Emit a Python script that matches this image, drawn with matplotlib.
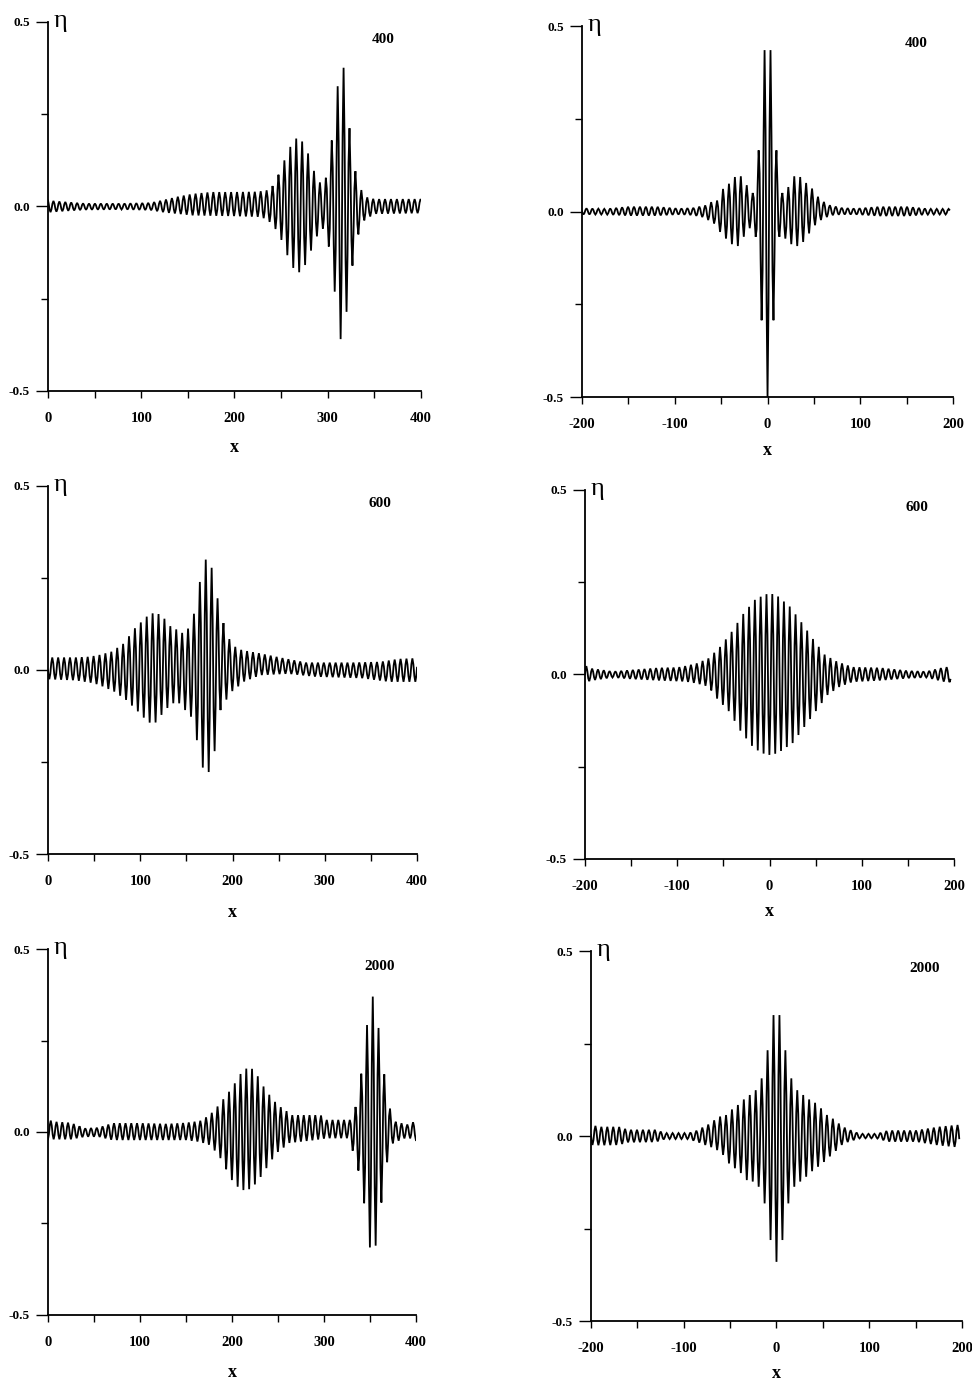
import numpy as np
import matplotlib
matplotlib.use("Agg")
import matplotlib.pyplot as plt
from matplotlib.ticker import MultipleLocator, FixedLocator
from matplotlib.transforms import offset_copy

plt.rcParams["axes.unicode_minus"] = False

# ---------------- data ----------------
# Each panel: crest envelope (peak x, peak eta), trough envelope (trough x, trough eta),
# carrier wavelength and position of one crest.

# top-left, t = 400
tl_peak_x = [0, 6, 20, 40, 80, 110, 125, 140, 155, 175, 200, 225, 235, 240, 246, 252, 258, 264, 270,
             277, 283, 290, 297, 304, 311, 317, 323, 329, 335, 342, 350, 400]
tl_peak_y = [0.018, 0.015, 0.012, 0.008, 0.008, 0.010, 0.018, 0.027, 0.034, 0.039, 0.039, 0.040, 0.044,
             0.052, 0.079, 0.116, 0.152, 0.183, 0.186, 0.159, 0.111, 0.066, 0.063, 0.172, 0.334, 0.376,
             0.219, 0.102, 0.048, 0.025, 0.020, 0.020]
tl_trough_x = [0, 20, 40, 80, 110, 125, 140, 155, 175, 200, 225, 235, 243.7, 249, 256, 262, 268.5, 274,
               280, 287, 294, 301, 308, 314, 320, 327, 333, 339, 350, 400]
tl_trough_y = [-0.016, -0.012, -0.009, -0.008, -0.010, -0.016, -0.020, -0.024, -0.025, -0.026, -0.028,
               -0.034, -0.060, -0.082, -0.128, -0.164, -0.180, -0.169, -0.133, -0.088, -0.054, -0.106,
               -0.241, -0.363, -0.289, -0.151, -0.074, -0.038, -0.020, -0.018]
tl_wavelength, tl_crest = 6.35, 317.0

# top-right, t = 400
tr_peak_x = [-200, -175, -150, -120, -95, -80, -66.5, -60.4, -54, -47.8, -41.6, -35.2, -28.8, -22.4,
             -16, -9.6, -3.2, 3.2, 9.6, 16, 22.4, 28.8, 35.2, 41.6, 48, 54.4, 60.8, 67.2, 80, 95, 120,
             150, 175, 200]
tr_peak_y = [0.009, 0.007, 0.013, 0.013, 0.008, 0.010, 0.017, 0.026, 0.030, 0.062, 0.075, 0.093, 0.095,
             0.071, 0.050, 0.165, 0.435, 0.435, 0.165, 0.050, 0.066, 0.095, 0.093, 0.077, 0.062, 0.040,
             0.026, 0.017, 0.010, 0.008, 0.013, 0.013, 0.007, 0.007]
tr_trough_x = [-200, -175, -150, -120, -95, -80, -70.4, -64, -57.6, -51.2, -44.8, -38.4, -32, -25.6,
               -19.2, -12.8, -6.4, 0, 6.4, 12.8, 19.2, 25.6, 32, 38.4, 44.8, 51.2, 57.6, 64, 70.4, 80,
               95, 120, 150, 175, 200]
tr_trough_y = [-0.008, -0.008, -0.011, -0.011, -0.008, -0.010, -0.015, -0.023, -0.032, -0.055, -0.073,
               -0.088, -0.093, -0.068, -0.045, -0.068, -0.293, -0.500, -0.293, -0.068, -0.073, -0.088,
               -0.093, -0.082, -0.059, -0.037, -0.023, -0.015, -0.010, -0.008, -0.008, -0.012, -0.012,
               -0.008, -0.008]
tr_wavelength, tr_crest = 6.4, 3.2

# middle-left, t = 600
ml_peak_x = [0, 30, 45, 56, 69, 82, 94, 107, 113, 120, 126, 132, 140, 146, 152, 159, 165, 171, 177,
             183.6, 190, 196, 203, 210, 230, 255, 280, 330, 360, 380, 400]
ml_peak_y = [0.034, 0.034, 0.036, 0.041, 0.050, 0.072, 0.113, 0.145, 0.154, 0.152, 0.140, 0.120, 0.109,
             0.100, 0.113, 0.158, 0.245, 0.300, 0.283, 0.197, 0.129, 0.086, 0.063, 0.054, 0.045, 0.032,
             0.020, 0.020, 0.022, 0.030, 0.032]
ml_trough_x = [0, 30, 50, 59.6, 72, 85, 97.6, 104, 110, 116.5, 123, 129, 136, 142, 149, 155, 161,
               167.7, 174, 181, 187, 193, 199, 206, 212, 230, 260, 290, 340, 370, 400]
ml_trough_y = [-0.025, -0.028, -0.036, -0.045, -0.059, -0.082, -0.113, -0.130, -0.143, -0.143, -0.122,
               -0.104, -0.090, -0.090, -0.110, -0.127, -0.186, -0.265, -0.279, -0.217, -0.109, -0.082,
               -0.059, -0.045, -0.032, -0.014, -0.010, -0.018, -0.022, -0.032, -0.032]
ml_wavelength, ml_crest = 6.4, 171.0

# middle-right, t = 600
mr_peak_x = [-200, -195, -170, -150, -120, -100, -91, -79, -66, -53.6, -41, -28, -15, -3, 3, 9, 22,
             35, 48, 60, 73, 90, 120, 150, 170, 190, 200]
mr_peak_y = [0.025, 0.017, 0.008, 0.012, 0.018, 0.019, 0.023, 0.030, 0.044, 0.075, 0.116, 0.166, 0.205,
             0.218, 0.218, 0.212, 0.184, 0.140, 0.093, 0.053, 0.035, 0.020, 0.018, 0.010, 0.008, 0.020,
             0.020]
mr_trough_x = [-200, -195, -170, -150, -120, -91, -79, -66, -57, -44, -31, -17, -6, 0, 6, 12, 25, 38,
               50, 63, 76, 90, 120, 150, 170, 190, 200]
mr_trough_y = [-0.030, -0.017, -0.008, -0.012, -0.016, -0.019, -0.024, -0.033, -0.065, -0.100, -0.155,
               -0.200, -0.215, -0.218, -0.215, -0.208, -0.186, -0.141, -0.100, -0.055, -0.033, -0.020,
               -0.016, -0.010, -0.008, -0.020, -0.022]
mr_wavelength, mr_crest = 6.3, 3.0

# bottom-left, t = 2000
bl_peak_x = [0, 8, 25, 40, 55, 70, 100, 130, 150, 165, 175, 181, 187, 194, 201, 207, 213, 220, 226,
             232, 238, 245, 251, 258, 264, 296, 303, 328, 334, 340, 346, 353, 360, 366, 372, 378, 390,
             400]
bl_peak_y = [0.033, 0.028, 0.025, 0.010, 0.012, 0.024, 0.024, 0.022, 0.025, 0.030, 0.045, 0.060, 0.078,
             0.101, 0.124, 0.151, 0.171, 0.177, 0.162, 0.133, 0.110, 0.087, 0.071, 0.060, 0.046, 0.046,
             0.033, 0.033, 0.065, 0.148, 0.283, 0.370, 0.274, 0.147, 0.060, 0.028, 0.020, 0.030]
bl_trough_x = [0, 25, 40, 55, 70, 150, 165, 175, 184, 191, 197, 204, 210, 216.5, 223, 229, 235, 242,
               248, 255, 262, 290, 303, 328, 331, 337, 344, 350, 356, 363, 369, 375, 390, 400]
bl_trough_y = [-0.020, -0.020, -0.013, -0.013, -0.022, -0.022, -0.027, -0.035, -0.058, -0.086, -0.122,
               -0.145, -0.158, -0.160, -0.149, -0.131, -0.108, -0.081, -0.058, -0.045, -0.030, -0.022,
               -0.017, -0.017, -0.050, -0.100, -0.200, -0.318, -0.313, -0.181, -0.076, -0.030, -0.015,
               -0.022]
bl_wavelength, bl_crest = 6.25, 353.0

# bottom-right, t = 2000
br_peak_x = [-200, -190, -170, -160, -130, -120, -95, -86, -80, -73, -67, -60, -54, -48, -41.6, -35.2,
             -28.8, -22.4, -16, -9.6, -3.2, 3.2, 9.6, 16, 22.4, 28.8, 35.2, 41.6, 48, 54.4, 60.8, 67.2,
             73.6, 80, 90, 108, 120, 150, 175, 195, 200]
br_peak_y = [0.030, 0.025, 0.025, 0.017, 0.017, 0.008, 0.008, 0.015, 0.023, 0.032, 0.043, 0.054, 0.057,
             0.072, 0.084, 0.099, 0.111, 0.124, 0.156, 0.232, 0.327, 0.327, 0.232, 0.156, 0.124, 0.111,
             0.099, 0.090, 0.075, 0.057, 0.047, 0.034, 0.023, 0.016, 0.006, 0.006, 0.015, 0.015, 0.025,
             0.030, 0.030]
br_trough_x = [-200, -190, -170, -160, -130, -120, -95, -83, -77, -70.4, -64, -57.6, -51.2, -44.8,
               -38.4, -32, -25.6, -19.2, -12.8, -6.4, 0, 6.4, 12.8, 19.2, 25.6, 32, 38.4, 44.8, 51.2,
               57.6, 64, 70.4, 77, 90, 108, 120, 150, 175, 195, 200]
br_trough_y = [-0.024, -0.025, -0.024, -0.017, -0.016, -0.008, -0.008, -0.018, -0.024, -0.030, -0.038,
               -0.051, -0.074, -0.087, -0.100, -0.119, -0.123, -0.137, -0.182, -0.281, -0.340, -0.281,
               -0.182, -0.137, -0.123, -0.110, -0.095, -0.083, -0.070, -0.055, -0.040, -0.024, -0.016,
               -0.006, -0.006, -0.015, -0.015, -0.025, -0.030, -0.030]
br_wavelength, br_crest = 6.4, 3.2

time_labels = ["400", "400", "600", "600", "2000", "2000"]
x_ranges = [(0, 400), (-200, 196), (0, 400), (-200, 196), (0, 400), (-200, 197)]
x_limits = [(0, 400), (-200, 200), (0, 400), (-200, 200), (0, 400), (-200, 200)]
y_ticks = [-0.5, 0.0, 0.5]
y_ticklabels = ["-0.5", "0.0", "0.5"]

panels = [
    (tl_peak_x, tl_peak_y, tl_trough_x, tl_trough_y, tl_wavelength, tl_crest),
    (tr_peak_x, tr_peak_y, tr_trough_x, tr_trough_y, tr_wavelength, tr_crest),
    (ml_peak_x, ml_peak_y, ml_trough_x, ml_trough_y, ml_wavelength, ml_crest),
    (mr_peak_x, mr_peak_y, mr_trough_x, mr_trough_y, mr_wavelength, mr_crest),
    (bl_peak_x, bl_peak_y, bl_trough_x, bl_trough_y, bl_wavelength, bl_crest),
    (br_peak_x, br_peak_y, br_trough_x, br_trough_y, br_wavelength, br_crest),
]

# axes rectangles [left, bottom, width, height] in figure fraction
rects = [
    [0.0494, 0.7173, 0.3837, 0.2668],
    [0.5988, 0.7129, 0.3817, 0.2683],
    [0.0494, 0.3825, 0.3796, 0.2661],
    [0.6019, 0.3789, 0.3796, 0.2668],
    [0.0494, 0.0492, 0.3786, 0.2646],
    [0.6080, 0.0448, 0.3817, 0.2675],
]
xlabel_drop_px = [57, 53, 58, 53, 58, 52]


def wave_curve(x0, x1, px, py, tx, ty, lam, crest):
    step = lam / 6.0
    k0 = np.ceil((x0 - crest) / step)
    k1 = np.floor((x1 - crest) / step)
    x = crest + np.arange(k0, k1 + 1) * step
    x = np.unique(np.concatenate(([x0], x, [x1])))
    top = np.interp(x, px, py)
    bot = np.interp(x, tx, ty)
    c = np.cos(2 * np.pi * (x - crest) / lam)
    return x, (top + bot) / 2 + (top - bot) / 2 * c


serif = "Liberation Serif"
fig = plt.figure(figsize=(9.72, 13.83), dpi=100)

for i, (rect, pdata) in enumerate(zip(rects, panels)):
    ax = fig.add_axes(rect)
    px, py, tx, ty, lam, crest = pdata
    x, y = wave_curve(x_ranges[i][0], x_ranges[i][1], px, py, tx, ty, lam, crest)
    ax.plot(x, y, color="black", lw=1.3, solid_joinstyle="miter")
    ax.set_xlim(*x_limits[i])
    ax.set_ylim(-0.5, 0.5)
    for s in ["top", "right"]:
        ax.spines[s].set_visible(False)
    for s in ["left", "bottom"]:
        ax.spines[s].set_linewidth(1.3)
    ax.xaxis.set_major_locator(MultipleLocator(100))
    ax.xaxis.set_minor_locator(MultipleLocator(50))
    ax.yaxis.set_major_locator(FixedLocator(y_ticks))
    ax.yaxis.set_minor_locator(FixedLocator([-0.25, 0.25]))
    ax.set_yticklabels(y_ticklabels)
    ax.tick_params(axis="x", which="both", direction="out", length=5, width=1.0, pad=10)
    ax.tick_params(axis="y", which="major", direction="out", length=9, width=1.0, pad=4)
    ax.tick_params(axis="y", which="minor", direction="out", length=5, width=1.0)
    for lab in ax.get_xticklabels():
        lab.set_fontfamily(serif)
        lab.set_fontweight("bold")
        lab.set_fontsize(10.5)
    for lab in ax.get_yticklabels():
        lab.set_fontfamily(serif)
        lab.set_fontweight("bold")
        lab.set_fontsize(9.5)
    tr_lab = offset_copy(ax.transAxes, fig=fig, x=0, y=-xlabel_drop_px[i] * 0.72, units="points")
    ax.text(0.5, 0.0, "x", transform=tr_lab, ha="center", va="center",
            fontfamily=serif, fontweight="bold", fontsize=13)
    ax.text(0.016, 1.004, "η", transform=ax.transAxes, ha="left", va="center",
            fontfamily=serif, fontsize=19)
    ax.text(0.9, 0.952, time_labels[i], transform=ax.transAxes, ha="center", va="center",
            fontfamily=serif, fontweight="bold", fontsize=11)

fig.savefig("out.png", dpi=100)
